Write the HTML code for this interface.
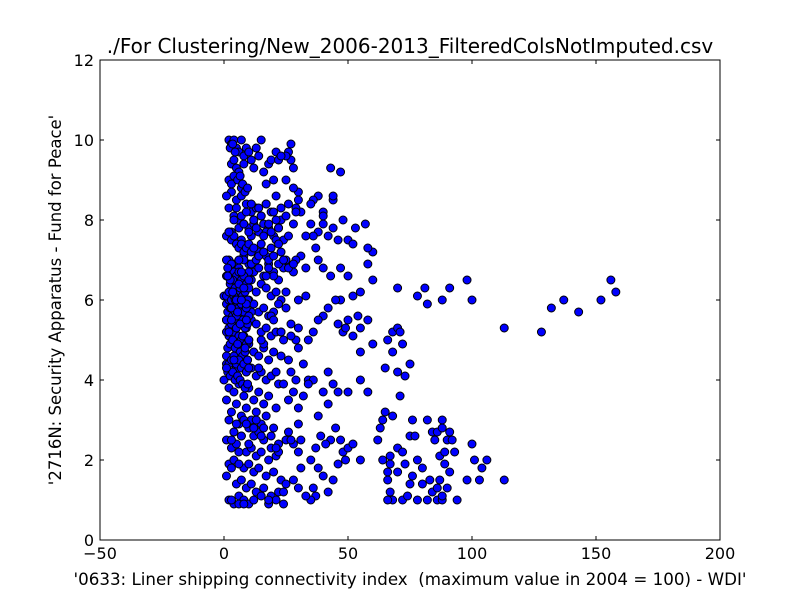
<!DOCTYPE html>
<html><head><meta charset="utf-8"><style>
body{margin:0;background:#fff;}
svg{display:block;font-family:"DejaVu Sans","Liberation Sans",sans-serif;}
</style></head><body>
<svg id="chart" width="800" height="600">
<rect width="800" height="600" fill="#fff"/>
<text x="410" y="53" font-size="20" text-anchor="middle">./For Clustering/New_2006-2013_FilteredColsNotImputed.csv</text>
<g id="points"></g>
<rect x="100" y="60" width="620" height="480" fill="none" stroke="#000" stroke-width="1"/>
<g id="axes"></g>
<text x="410" y="585" font-size="16.7" text-anchor="middle" style="white-space:pre">'0633: Liner shipping connectivity index  (maximum value in 2004 = 100) - WDI'</text>
<text transform="translate(61,300) rotate(-90)" font-size="16.5" text-anchor="middle">'2716N: Security Apparatus - Fund for Peace'</text>
</svg>
<script>
const xTicks=[-50,0,50,100,150,200];
const yTicks=[0,2,4,6,8,10,12];
const xs=[70,78,81,82,88,91,98,100,113,128,132,137,143,152,156,158,
66,68,70,71,72,68,65,70,73,75,71,60,55,58,62,63,64,65,68,64,67,67,66,66,70,70,72,75,77,76,78,80,82,84,85,86,88,88,87,89,90,91,92,89,91,93,100,101,104,106,103,98,113,83,84,87,80,76,75,73,82,86,88,94,78,72,68,66,67,90,88,86,74,
47,43,40,38,44,44,40,36,35,48,53,57,60,58,50,52,46,44,42,40,38,36,35,37,38,40,43,47,50,52,55,58,60,54,55,58,48,46,49,50,47,45,42,40,38,36,34,33,30,33,31,33,31,30,30,29,28,27,28,27,26,25,25,29,28,25,30,34,36,34,40,42,44,46,50,52,55,42,38,39,37,35,38,40,37,35,36,42,44,46,48,50,52,49,47,45,43,41,55,30,31,30,31,28,30,33,30,32,27,28,26,29,26,29,30,27,25,32,
2,3,4,5,6,7,8,3,4,5,6,2,3,4,6,7,8,9,10,11,12,13,14,15,16,17,18,19,20,21,22,23,3,5,7,9,11,13,15,17,19,21,23,2,4,6,8,10,12,14,16,18,20,22,24,1,3,5,7,9,11,13,15,17,19,21,23,25,2,4,6,8,10,12,14,16,18,20,22,24,1,3,5,7,9,11,13,15,17,19,21,23,0,2,4,6,8,10,12,14,16,18,20,22,1,3,5,7,9,11,13,15,17,19,21,24,2,4,6,8,10,12,14,16,18,20,23,1,3,5,7,9,11,13,15,17,19,22,0,2,4,6,8,10,12,14,16,18,21,1,3,5,7,9,11,13,15,17,20,2,4,6,8,10,12,14,16,19,22,1,3,5,7,9,11,13,15,18,21,2,4,6,8,10,12,14,17,20,23,1,3,5,7,9,11,13,16,19,22,25,2,4,6,8,10,12,15,18,21,24,1,3,5,7,9,11,14,17,20,23,2,4,6,8,10,13,16,19,22,25,1,3,5,7,9,12,15,18,21,24,27,2,4,6,8,11,14,17,20,23,26,3,5,7,10,13,16,19,22,25,28,4,6,9,12,15,18,21,24,27,3,6,8,11,14,17,20,23,26,29,5,7,9,12,15,18,21,25,28,4,6,8,10,13,16,19,22,26,2,3,4,5,6,7,8,9,10,11,12,14,16,18,20,22,24,26,28,
1,2,3,4,5,6,7,8,9,10,1.5,2.5,3.5,4.5,5.5,6.5,7.5,8.5,9.5,1,2,3,4,5,6,7,8,9,10,1.5,2.5,3.5,4.5,5.5,6.5,7.5,8.5,9.5,1,2,3,4,5,6,7,8,9,10,1.5,2.5,3.5,4.5,5.5,6.5,7.5,8.5,9.5,1,2,3,4,5,6,7,8,9,10,1.5,2.5,3.5,4.5,5.5,6.5,7.5,8.5,9.5,1,2,3,4,5,6,7,8,9,10,1.5,2.5,3.5,4.5,5.5,6.5,7.5,8.5,9.5,1,2,3,4,5,6,7,8,9,10,1.5,2.5,3.5,4.5,5.5,6.5,7.5,8.5,9.5,1,2,3,4,5,6,7,8,9,10,11,1.5,2.5,3.5,4.5,5.5,6.5,7.5,8.5,9.5,1,2,3,4,5,6,7,8,9,10,-1,-1,0.5,0.5,0.5,11,12,11,12,11,1,2,3,1,2,3,2,1,3],
ys=[6.3,6.1,6.3,5.9,6.0,6.3,6.5,6.0,5.3,5.2,5.8,6.0,5.7,6.0,6.5,6.2,
5.0,5.2,5.3,5.2,4.9,4.7,4.3,4.2,4.1,4.4,3.6,4.9,4.0,3.7,2.5,2.8,3.0,3.2,3.1,2.0,2.1,1.9,1.7,1.5,1.7,2.3,2.2,2.6,2.6,3.0,2.0,1.8,3.0,2.7,2.5,2.7,3.0,2.8,2.1,2.2,2.5,2.7,2.5,1.9,1.7,2.2,2.4,2.0,1.8,2.0,1.5,1.5,1.5,1.5,1.2,1.5,1.4,1.6,1.4,1.9,1.0,1.0,1.0,1.0,1.0,1.0,1.0,1.0,1.2,1.3,1.1,1.3,1.1,
9.2,9.3,8.2,8.6,8.5,8.6,8.1,8.5,8.4,8.0,7.8,7.9,7.2,7.3,7.5,7.4,7.5,7.8,7.6,7.9,7.7,7.6,7.9,7.3,7.0,6.8,6.6,6.8,6.6,6.1,6.2,6.9,6.5,5.6,5.3,5.5,5.2,5.4,5.3,5.5,6.0,6.0,5.8,5.6,5.5,5.2,5.0,6.1,6.0,6.8,7.1,7.6,8.2,8.5,8.7,8.3,8.8,9.5,9.3,9.9,9.7,9.6,9.0,7.0,6.7,6.9,4.8,4.0,4.0,3.9,3.7,4.2,3.9,3.7,3.7,5.1,4.7,3.4,3.1,2.6,2.3,2.0,1.8,1.6,1.1,1.0,1.3,1.2,1.5,1.9,2.2,2.3,2.4,2.0,2.5,2.8,2.5,2.4,2.0,2.9,2.5,2.2,1.8,1.5,1.3,1.1,3.3,3.6,4.2,3.7,3.5,4.0,4.5,5.0,5.3,5.4,5.8,4.4,
10.0,9.9,10.0,9.8,9.7,10.0,9.6,9.4,9.5,9.3,9.2,9.0,8.9,9.1,9.0,8.8,9.4,9.8,9.7,9.5,9.3,9.8,9.6,10.0,9.2,8.9,9.4,9.5,9.0,9.7,9.5,9.6,8.7,8.5,8.6,8.4,8.2,8.3,8.1,8.4,8.2,8.6,8.0,8.3,8.1,8.0,7.9,7.8,8.0,7.7,7.9,7.8,7.6,7.8,7.5,7.6,7.7,7.4,7.5,7.3,7.6,7.2,7.4,7.1,7.3,7.5,7.2,7.0,7.0,6.9,6.8,7.1,6.9,6.7,6.8,6.6,6.9,6.7,6.5,6.8,6.6,6.5,6.4,6.6,6.3,6.5,6.2,6.4,6.3,6.1,6.2,6.0,6.1,5.9,6.0,6.2,5.8,6.0,5.9,5.7,5.8,5.6,5.7,5.9,5.5,5.6,5.4,5.5,5.3,5.5,5.4,5.2,5.3,5.1,5.2,5.0,5.1,4.9,5.0,4.8,4.9,4.7,4.6,4.8,4.5,4.7,4.6,4.4,4.5,4.3,4.4,4.2,4.3,4.1,4.2,4.0,4.1,3.9,4.0,3.8,3.7,3.9,3.6,3.8,3.5,3.7,3.4,3.6,3.3,3.5,3.2,3.4,3.1,3.3,3.0,3.2,2.9,3.1,2.8,3.0,2.7,2.9,3.0,2.8,2.6,2.7,2.5,2.6,2.4,2.5,2.3,2.4,2.6,2.2,2.3,2.1,2.2,2.0,2.1,1.9,2.0,2.2,1.8,1.9,1.7,1.8,1.6,1.7,1.5,1.6,1.8,1.4,1.5,1.3,1.4,1.2,1.3,1.1,1.2,1.4,1.0,0.9,1.1,1.0,0.9,1.0,1.1,0.9,1.0,1.2,
5.5,5.8,6.1,4.5,6.4,6.9,7.2,7.7,6.6,5.2,5.7,6.3,5.9,5.4,6.7,7.0,4.9,5.6,7.4,6.2,5.9,6.5,5.3,4.8,4.4,7.9,5.0,6.8,4.2,3.9,5.1,6.0,4.6,6.1,7.3,5.7,4.3,6.6,5.5,5.2,2.7,2.5,2.9,2.6,2.4,3.0,2.8,2.3,2.2,2.5,2.4,2.7,1.9,2.9,2.8,2.6,1.0,2.3,0.9,2.5,1.0,0.9,0.9,
8.4,8.3,8.4,8.2,8.3,8.4,8.2,8.3,8.1,8.2,8.0,8.1,7.9,8.0,8.1,7.9,8.0,7.8,7.9,7.7,7.8,7.6,7.7,7.8,7.6,7.7,7.5,7.6,7.4,7.3,7.4,7.2,7.3,7.4,7.2,7.3,7.1,7.2,7.0,7.1,6.9,7.0,6.8,6.9,7.0,6.8,6.9,6.7,6.6,6.7,6.5,6.6,6.4,6.5,6.6,6.4,6.5,6.3,6.2,6.3,6.1,6.2,6.0,6.1,6.2,6.0,6.1,5.9,5.8,5.9,5.7,5.8,5.6,5.7,5.8,5.6,5.7,5.5,5.4,5.5,5.3,5.4,5.2,5.3,5.4,5.2,5.3,5.1,5.0,5.1,4.9,5.0,4.8,4.9,5.0,4.8,4.9,4.7,4.6,4.7,4.5,4.6,4.4,4.5,4.6,4.4,4.5,4.3,4.4,4.2,4.3,4.2,4.1,4.2,4.0,4.1,4.0,3.9,3.8,3.9,5.5,5.2,5.8,6.1,5.6,6.4,6.7,7.0,5.9,6.3,6.8,6.5,6.2,6.0,5.7,5.4,5.1,4.8,4.5,4.3,7.7,5.5,4.5,6.0,7.0,6.0,6.3,5.5,5.0,6.6,9.8,9.9,9.7,9.0,9.1,8.9,8.7,8.8,8.6];
const x0=224, xs_=2.48, yb=540, yk=40;
const X=v=>x0+v*xs_, Y=v=>yb-v*yk;
const NS='http://www.w3.org/2000/svg';
const pg=document.getElementById('points');
for(let i=0;i<Math.min(xs.length,ys.length);i++){
 const c=document.createElementNS(NS,'circle');
 c.setAttribute('cx',X(xs[i]));c.setAttribute('cy',Y(ys[i]));c.setAttribute('r',4);
 c.setAttribute('fill','#0000ff');c.setAttribute('stroke','#000');c.setAttribute('stroke-width','1');
 
 
 pg.appendChild(c);
}
const ax=document.getElementById('axes');


xTicks.forEach(t=>{
 const x=X(t);
 [[540,536],[60,64]].forEach(p=>{const l=document.createElementNS(NS,'line');l.setAttribute('x1',x);l.setAttribute('x2',x);l.setAttribute('y1',p[0]);l.setAttribute('y2',p[1]);l.setAttribute('stroke','#000');
 
 ax.appendChild(l);});
 const tx=document.createElementNS(NS,'text');tx.setAttribute('x',x);tx.setAttribute('y',559);tx.setAttribute('font-size','16');tx.setAttribute('text-anchor','middle');tx.textContent=t.toString().replace('-','\u2212');
 
 ax.appendChild(tx);
});
yTicks.forEach(t=>{
 const y=Y(t);
 [[100,104],[720,716]].forEach(p=>{const l=document.createElementNS(NS,'line');l.setAttribute('x1',p[0]);l.setAttribute('x2',p[1]);l.setAttribute('y1',y);l.setAttribute('y2',y);l.setAttribute('stroke','#000');
 
 ax.appendChild(l);});
 const tx=document.createElementNS(NS,'text');tx.setAttribute('x',94);tx.setAttribute('y',y+6);tx.setAttribute('font-size','16');tx.setAttribute('text-anchor','end');tx.textContent=t;
 
 ax.appendChild(tx);
});
</script>
</body></html>
